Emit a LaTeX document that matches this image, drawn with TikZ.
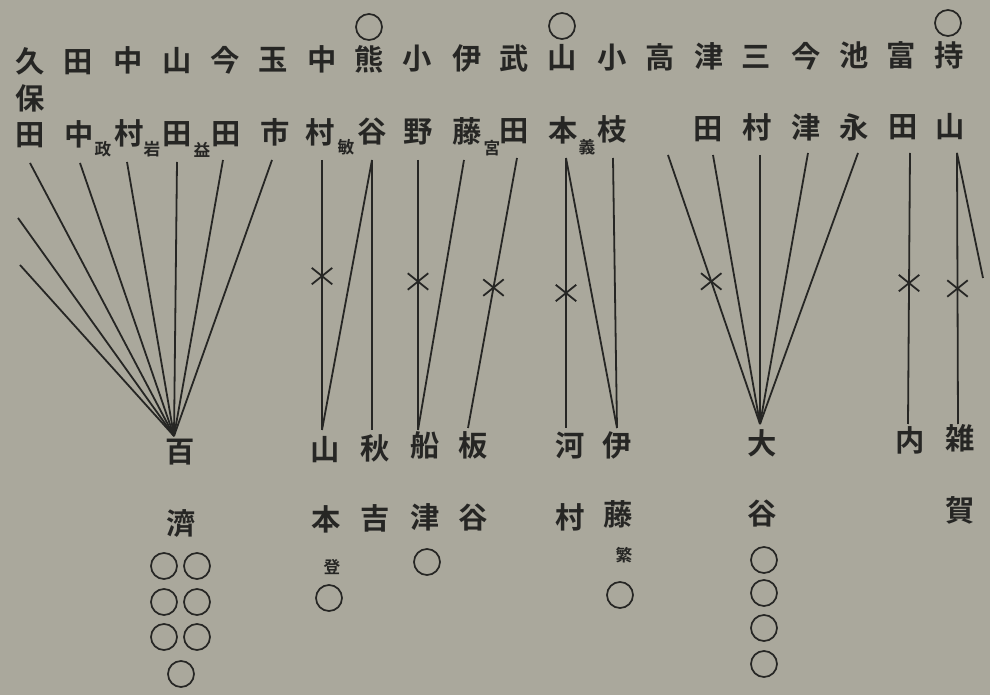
\documentclass[tikz,border=0pt]{standalone}
\usepackage{fontspec}
\setmainfont{Noto Sans CJK JP}[BoldFont={Noto Sans CJK JP Bold}]
\usetikzlibrary{shapes.misc}
\definecolor{paper}{RGB}{170,168,156}
\definecolor{ink}{RGB}{38,38,36}
\begin{document}
\begin{tikzpicture}[x=0.75pt,y=-0.75pt,
  ch/.style={inner sep=0pt, text=ink, font=\fontsize{22}{22}\selectfont\bfseries, text height=0.86em, text depth=0.12em},
  sm/.style={inner sep=0pt, text=ink, font=\fontsize{12.5}{12.5}\selectfont\bfseries},
  ring/.style={circle, draw=ink, line width=1.3pt, minimum size=19.5pt, inner sep=0pt},
  link/.style={draw=ink, line width=1.35pt},
  xmark/.style={cross out, draw=ink, line width=1.35pt, minimum width=14pt, minimum height=11pt, inner sep=0pt}]
\fill[paper] (0,0) rectangle (990,695);
\useasboundingbox (0,0) rectangle (990,695);
% top circles
\node[ring] (tc1) at (369,27) {};
\node[ring] (tc2) at (562,26) {};
\node[ring] (tc3) at (948,23) {};
% top row
\node[ch] (a1) at (30,68) {久};
\node[ch] (a2) at (78,68) {田};
\node[ch] (a3) at (128,67) {中};
\node[ch] (a4) at (177,67) {山};
\node[ch] (a5) at (225,67) {今};
\node[ch] (a6) at (273,66) {玉};
\node[ch] (a7) at (322,66) {中};
\node[ch] (a8) at (369,66) {熊};
\node[ch] (a9) at (417,65) {小};
\node[ch] (a10) at (467,65) {伊};
\node[ch] (a11) at (514,65) {武};
\node[ch] (a12) at (562,64) {山};
\node[ch] (a13) at (612,64) {小};
\node[ch] (a14) at (660,64) {高};
\node[ch] (a15) at (709,63) {津};
\node[ch] (a16) at (756,63) {三};
\node[ch] (a17) at (806,63) {今};
\node[ch] (a18) at (854,62) {池};
\node[ch] (a19) at (901,62) {富};
\node[ch] (a20) at (949,62) {持};
% middle
\node[ch] (m1) at (30,105) {保};
% second row
\node[ch] (b1) at (30,141) {田};
\node[ch] (b2) at (79,141) {中};
\node[sm] (b2s) at (103,149) {政};
\node[ch] (b3) at (129,140) {村};
\node[sm] (b3s) at (152,149) {岩};
\node[ch] (b4) at (177,140) {田};
\node[sm] (b4s) at (202,150) {益};
\node[ch] (b5) at (226,140) {田};
\node[ch] (b6) at (275,139) {市};
\node[ch] (b7) at (320,139) {村};
\node[sm] (b7s) at (346,147) {敏};
\node[ch] (b8) at (372,138) {谷};
\node[ch] (b9) at (418,138) {野};
\node[ch] (b10) at (467,138) {藤};
\node[sm] (b10s) at (492,148) {宮};
\node[ch] (b11) at (514,137) {田};
\node[ch] (b12) at (563,137) {本};
\node[sm] (b12s) at (587,147) {義};
\node[ch] (b13) at (612,136) {枝};
\node[ch] (b15) at (708,135) {田};
\node[ch] (b16) at (757,134) {村};
\node[ch] (b17) at (806,134) {津};
\node[ch] (b18) at (854,134) {永};
\node[ch] (b19) at (903,133) {田};
\node[ch] (b20) at (950,133) {山};
% bottom labels
\node[ch] (c1) at (180,458) {百};
\node[ch] (c1b) at (181,530) {濟};
\node[ch] (c2) at (325,456) {山};
\node[ch] (c2b) at (326,526) {本};
\node[sm] (c2s) at (332,567) {登};
\node[ch] (c3) at (375,455) {秋};
\node[ch] (c3b) at (375,525) {吉};
\node[ch] (c4) at (425,452) {船};
\node[ch] (c4b) at (425,524) {津};
\node[ch] (c5) at (473,452) {板};
\node[ch] (c5b) at (473,524) {谷};
\node[ch] (c6) at (570,452) {河};
\node[ch] (c6b) at (570,524) {村};
\node[ch] (c7) at (617,452) {伊};
\node[ch] (c7b) at (618,521) {藤};
\node[sm] (c7s) at (624,555) {繁};
\node[ch] (c8) at (762,450) {大};
\node[ch] (c8b) at (762,520) {谷};
\node[ch] (c9) at (910,447) {内};
\node[ch] (c10) at (960,445) {雑};
\node[ch] (c10b) at (960,517) {賀};
% bottom circles
\node[ring] (r1) at (164,566) {};
\node[ring] (r2) at (197,566) {};
\node[ring] (r3) at (164,602) {};
\node[ring] (r4) at (197,602) {};
\node[ring] (r5) at (164,637) {};
\node[ring] (r6) at (197,637) {};
\node[ring] (r7) at (181,674) {};
\node[ring] (r8) at (329,598) {};
\node[ring] (r9) at (427,562) {};
\node[ring] (r10) at (620,595) {};
\node[ring] (r11) at (764,560) {};
\node[ring] (r12) at (764,593) {};
\node[ring] (r13) at (764,628) {};
\node[ring] (r14) at (764,664) {};
% line end points
\coordinate (f1) at (174,436);
\coordinate (s1) at (30,163);
\coordinate (s2) at (80,163);
\coordinate (s3) at (127,162);
\coordinate (s4) at (177,162);
\coordinate (s5) at (223,160);
\coordinate (s6) at (272,160);
\coordinate (o1) at (18,218);
\coordinate (o2) at (20,265);
\coordinate (s7) at (322,160);
\coordinate (e7) at (322,430);
\coordinate (s8) at (372,160);
\coordinate (e8) at (372,430);
\coordinate (s9) at (418,160);
\coordinate (e9) at (418,430);
\coordinate (s10) at (464,160);
\coordinate (s11) at (517,158);
\coordinate (e11) at (468,428);
\coordinate (s12) at (566,158);
\coordinate (e12) at (566,428);
\coordinate (s13) at (613,158);
\coordinate (e13) at (617,428);
\coordinate (f5) at (760,424);
\coordinate (s14) at (668,155);
\coordinate (s15) at (713,155);
\coordinate (s16) at (760,155);
\coordinate (s17) at (808,153);
\coordinate (s18) at (858,153);
\coordinate (s19) at (910,153);
\coordinate (e19) at (908,424);
\coordinate (s20) at (957,153);
\coordinate (e20) at (958,424);
\coordinate (o20) at (983,278);
% fan to 百
\foreach \s in {s1,s2,s3,s4,s5,s6,o1,o2} \draw[link] (\s) -- (f1);
% group 2
\draw[link] (s7) -- (e7) node[xmark, pos=0.43] {};
\draw[link] (s8) -- (e7);
\draw[link] (s8) -- (e8);
% group 3
\draw[link] (s9) -- (e9) node[xmark, pos=0.45] {};
\draw[link] (s10) -- (e9);
\draw[link] (s11) -- (e11) node[xmark, pos=0.48] {};
% group 4
\draw[link] (s12) -- (e12) node[xmark, pos=0.5] {};
\draw[link] (s12) -- (e13);
\draw[link] (s13) -- (e13);
% fan to 大
\draw[link] (s14) -- (f5) node[xmark, pos=0.47] {};
\foreach \s in {s15,s16,s17,s18} \draw[link] (\s) -- (f5);
% right
\draw[link] (s19) -- (e19) node[xmark, pos=0.48] {};
\draw[link] (s20) -- (e20) node[xmark, pos=0.5] {};
\draw[link] (s20) -- (o20);
\end{tikzpicture}
\end{document}
